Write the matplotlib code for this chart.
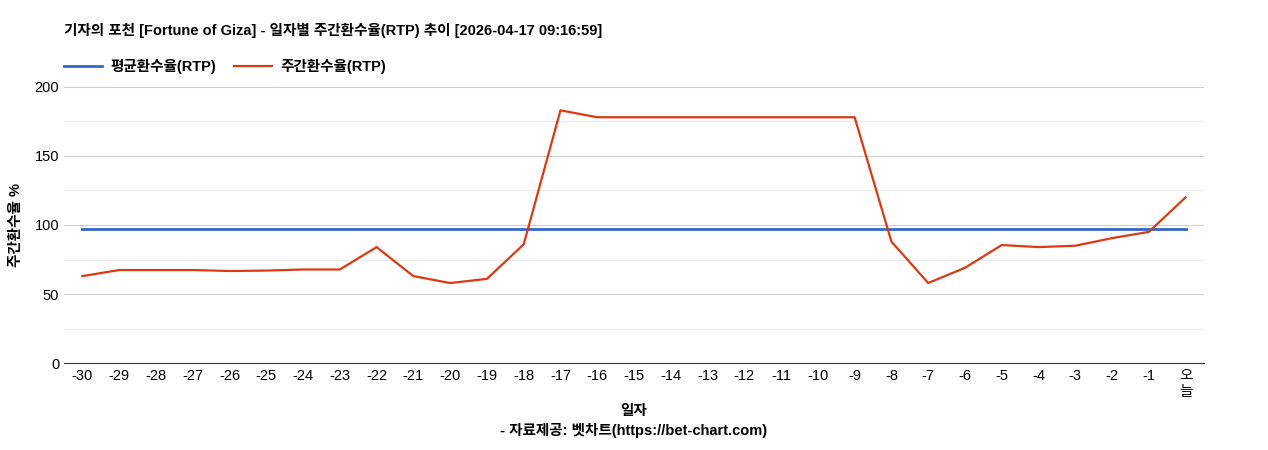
import matplotlib
matplotlib.use('Agg')
import matplotlib.pyplot as plt
from matplotlib.ticker import MultipleLocator

plt.rcParams['font.family'] = ['Liberation Sans', 'Noto Sans CJK KR', 'DejaVu Sans']

labels = [str(d) for d in range(-30, 0)] + ['오\n늘']
weekly_rtp = [63, 67.4, 67.4, 67.4, 66.7, 67, 67.8, 67.8, 84, 63, 58, 61, 86,
              183, 178, 178, 178, 178, 178, 178, 178, 178, 88, 58, 69, 85.5,
              84, 85, 90.5, 95, 120]
avg_rtp = [97] * len(labels)

fig = plt.figure(figsize=(12.68, 4.5), dpi=100)
ax = fig.add_axes([0.0505, 0.193, 0.899, 0.614])

x = list(range(len(labels)))
ax.plot(x, avg_rtp, color='#3366cc', linewidth=2, label='평균환수율(RTP)')
ax.plot(x, weekly_rtp, color='#dc3912', linewidth=1.6, label='주간환수율(RTP)')

ax.set_xlim(-0.5, len(labels) - 0.5)
ax.set_ylim(0, 200)
ax.yaxis.set_major_locator(MultipleLocator(50))
ax.yaxis.set_minor_locator(MultipleLocator(25))
ax.grid(which='major', axis='y', color='#cccccc', linewidth=0.8)
ax.grid(which='minor', axis='y', color='#ebebeb', linewidth=0.8)
ax.set_axisbelow(True)
ax.set_xticks(x)
ax.set_xticklabels(labels, fontsize=10.5, rotation=0)
ax.tick_params(axis='y', which='both', labelsize=10.5, length=0)
ax.tick_params(axis='x', length=0, pad=4)
for s in ['top', 'right', 'left']:
    ax.spines[s].set_visible(False)
ax.spines['bottom'].set_color('#333333')

ax.set_ylabel('주간환수율 %', fontsize=10.5, fontweight='bold', labelpad=8)
ax.set_xlabel('일자\n- 자료제공: 벳차트(https://bet-chart.com)', fontsize=10.5,
              fontweight='bold', labelpad=4, linespacing=1.4)

fig.text(0.0505, 0.932, '기자의 포천 [Fortune of Giza] - 일자별 주간환수율(RTP) 추이 [2026-04-17 09:16:59]',
         fontsize=10.5, fontweight='bold', va='center')
ax.legend(loc='lower left', bbox_to_anchor=(-0.005, 1.025), ncol=2, frameon=False,
          prop={'weight': 'bold', 'size': 10.5}, handlelength=2.6, borderaxespad=0,
          columnspacing=1.2, handletextpad=0.6)

fig.savefig('out.png', dpi=100)
